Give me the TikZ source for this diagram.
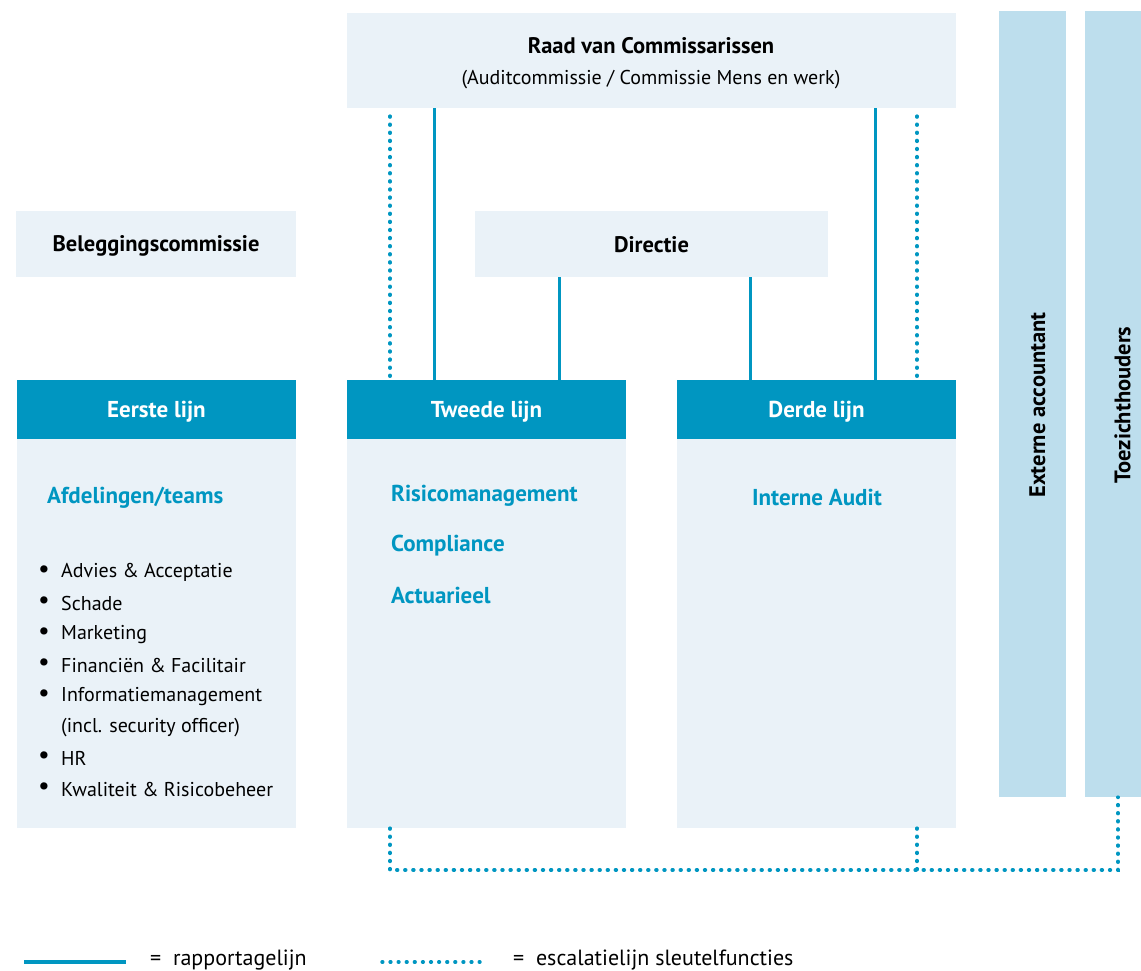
\documentclass[tikz,border=0pt]{standalone}
\usepackage{fontspec}
\usetikzlibrary{calc}
\setmainfont{PT Sans}
\definecolor{teal}{HTML}{0096C1}
\definecolor{pale}{HTML}{EAF2F8}
\definecolor{side}{HTML}{BDDEED}
\begin{document}
\begin{tikzpicture}[x=1pt,y=-1pt,
  box/.style={fill=pale,draw=none,inner sep=0pt,minimum width=#1},
  head/.style={fill=teal,draw=none,inner sep=0pt,minimum width=279pt,minimum height=59pt},
  htxt/.style={text=white,font=\fontsize{23}{26}\selectfont\bfseries,inner sep=0pt},
  sidebar/.style={fill=side,draw=none,inner sep=0pt,minimum height=786pt},
  rep/.style={draw=teal,line width=3pt},
  esc/.style={draw=teal,line width=3.6pt,line cap=round,dash pattern=on 0.8pt off 7.3pt},
  txt/.style={font=\fontsize{20}{24}\selectfont,inner sep=0pt},
  ltxt/.style={font=\fontsize{22}{26}\selectfont,inner sep=0pt},
  btxt/.style={font=\fontsize{22.5}{26}\selectfont\bfseries,inner sep=0pt},
  blue/.style={font=\fontsize{23}{26}\selectfont\bfseries,text=teal,inner sep=0pt,anchor=west}]
\useasboundingbox (0,0) rectangle (1141,971);
% boxes
\node[box=609pt,minimum height=95pt] (raad) at (651.5,60.5) {};
\node[btxt] (raadt) at (651,45.5) {Raad van Commissarissen};
\node[txt] (raads) at (651,80) {(Auditcommissie / Commissie Mens en werk)};
\node[box=280pt,minimum height=66pt] (beleg) at (156,244) {};
\node[btxt] (belegt) at (156,245.5) {Beleggingscommissie};
\node[box=353pt,minimum height=66pt] (dir) at (651.5,244) {};
\node[btxt] (dirt) at (651.5,245) {Directie};
% columns
\node[box=279pt,minimum height=389pt] (b1) at (156.5,633.5) {};
\node[box=279pt,minimum height=389pt] (b2) at (486.5,633.5) {};
\node[box=279pt,minimum height=389pt] (b3) at (816.5,633.5) {};
\node[head] (h1) at (156.5,409.5) {};
\node[head] (h2) at (486.5,409.5) {};
\node[head] (h3) at (816.5,409.5) {};
\node[htxt] (h1t) at (156.5,411.5) {Eerste lijn};
\node[htxt] (h2t) at (486.5,411.5) {Tweede lijn};
\node[htxt] (h3t) at (816.5,411.5) {Derde lijn};
\node[sidebar,minimum width=67pt] (ext) at (1032.5,404) {};
\node[sidebar,minimum width=58pt] (toe) at (1114,404) {};
\node[btxt,rotate=90] (extt) at (1037.5,405) {Externe accountant};
\node[btxt,rotate=90] (toet) at (1122.5,405) {Toezichthouders};
% contents
\node[blue] (afd) at (47,498) {Afdelingen/teams};
\node[blue] (ris) at (391,496) {Risicomanagement};
\node[blue] (com) at (391,546) {Compliance};
\node[blue] (act) at (391,595) {Actuarieel};
\node[blue,anchor=center] (ia) at (817,497) {Interne Audit};
\foreach \t/\y [count=\i] in {Advies \& Acceptatie/571,Schade/602,Marketing/633,Financiën \& Facilitair/664,Informatiemanagement/695,HR/757,Kwaliteit \& Risicobeheer/788}{
  \node[txt,font=\fontsize{26}{26}\selectfont] (bul\i) at (44,\y+1) {\textbullet};
  \node[txt,anchor=west] (it\i) at (61,\y+1.5) {\t};
}
\node[txt,anchor=west] (incl) at (61,727.5) {(incl. security officer)};
% coordinates
\coordinate (xa) at (390,0);
\coordinate (xb) at (434,0);
\coordinate (xc) at (559,0);
\coordinate (xd) at (750,0);
\coordinate (xe) at (875,0);
\coordinate (xf) at (917,0);
\coordinate (xg) at (1118,0);
\coordinate (yb) at (0,870);
% reporting lines
\draw[rep] (raad.south -| xb) -- (h2.north -| xb);
\draw[rep] (raad.south -| xe) -- (h3.north -| xe);
\draw[rep] (dir.south -| xc) -- (h2.north -| xc);
\draw[rep] (dir.south -| xd) -- (h3.north -| xd);
% escalation lines
\draw[esc] ($(raad.south -| xa)+(0,8)$) -- (h2.north -| xa);
\draw[esc] ($(raad.south -| xf)+(0,8)$) -- (h3.north -| xf);
\coordinate (c1) at (xa |- yb);
\coordinate (c2) at (xf |- yb);
\coordinate (c3) at (xg |- yb);
\draw[esc] (b2.south -| xa) -- (c1) -- (c3) -- (toe.south -| xg);
\draw[esc] (b3.south -| xf) -- (c2);
% legend
\coordinate (l1) at (24,962);
\coordinate (l2) at (126,962);
\coordinate (l3) at (382,962);
\coordinate (l4) at (482,962);
\draw[rep,line width=3.6pt] (l1) -- (l2);
\draw[esc,line width=3.4pt] (l3) -- (l4);
\node[ltxt,anchor=west] (lt1) at (150,960.5) {=\ \ rapportagelijn};
\node[ltxt,anchor=west] (lt2) at (513,960.5) {=\ \ escalatielijn sleutelfuncties};
\end{tikzpicture}
\end{document}
